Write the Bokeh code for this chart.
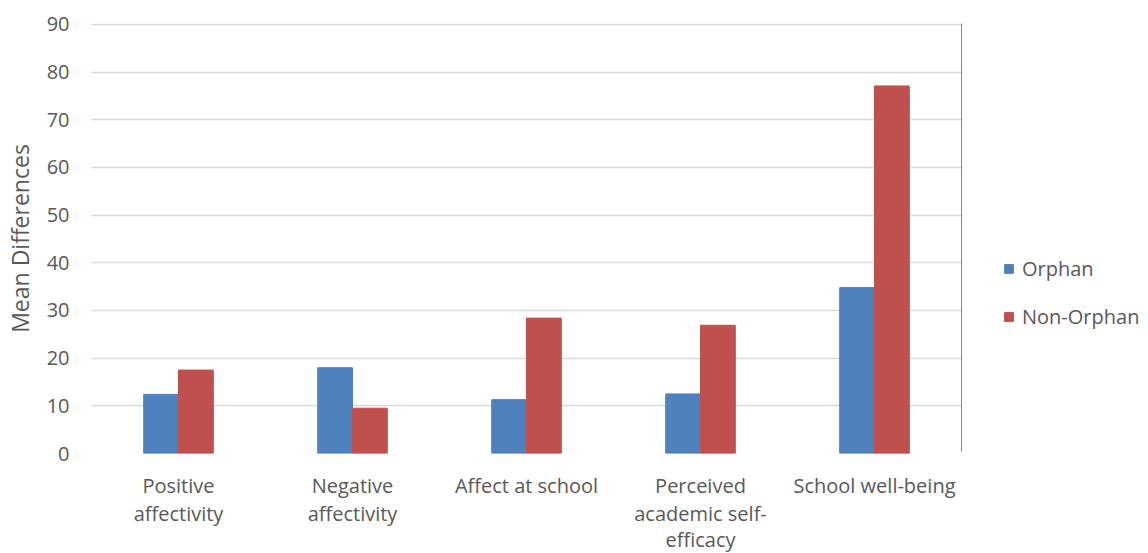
from bokeh.plotting import figure
from bokeh.models import (ColumnDataSource, Legend, LegendItem, FixedTicker,
                          LinearAxis, Range1d)
from bokeh.layouts import row
from bokeh.transform import dodge
from bokeh.embed import file_html
from bokeh.resources import INLINE

categories = ["Positive affectivity", "Negative affectivity", "Affect at school",
              "Perceived academic self-efficacy", "School well-being"]
# tick labels, one list per text line of each category label
label_line1 = ["Positive", "Negative", "Affect at school", "Perceived", "School well-being"]
label_line2 = ["affectivity", "affectivity", "", "academic self-", ""]
label_line3 = ["", "", "", "efficacy", ""]
orphan = [12.4, 18.0, 11.3, 12.5, 34.8]
non_orphan = [17.5, 9.5, 28.4, 26.9, 77.1]
series_names = ["Orphan", "Non-Orphan"]
y_ticks = [0, 10, 20, 30, 40, 50, 60, 70, 80, 90]
colors = ["#4F81BD", "#C0504D"]

FONT = "Open Sans"
TXT = "#595959"
GRID = "#D9D9D9"
FS = "20px"

# category i is centred at 2*i+1 on a 0..10 scale
n_cat = len(categories)
pos = [2 * i + 1 for i in range(n_cat)]
src = ColumnDataSource(dict(cat=categories, pos=pos, orphan=orphan, non=non_orphan))

p = figure(x_range=Range1d(0, 2 * n_cat), y_range=Range1d(0, 90.2),
           frame_width=870, frame_height=430, output_backend="svg", toolbar_location=None,
           min_border_left=90, min_border_right=0, min_border_top=23, min_border_bottom=0)

r1 = p.vbar(x=dodge("pos", -0.2), top="orphan", width=0.4, source=src,
            fill_color=colors[0], line_color=colors[0])
r2 = p.vbar(x=dodge("pos", 0.2), top="non", width=0.4, source=src,
            fill_color=colors[1], line_color=colors[1])

p.outline_line_color = None
p.background_fill_color = "white"
p.border_fill_color = "white"
p.xgrid.visible = False
p.ygrid.grid_line_color = GRID
p.ygrid.grid_line_width = 1.3
p.yaxis.ticker = FixedTicker(ticks=y_ticks)

p.yaxis.axis_line_color = None
p.yaxis.major_tick_line_color = None
p.yaxis.minor_tick_line_color = None
p.yaxis.major_label_text_font = FONT
p.yaxis.major_label_text_font_size = FS
p.yaxis.major_label_text_color = TXT
p.yaxis.major_label_standoff = 16
p.yaxis.axis_label = "Mean Differences"
p.yaxis.axis_label_text_font = FONT
p.yaxis.axis_label_text_font_size = "23px"
p.yaxis.axis_label_text_font_style = "normal"
p.yaxis.axis_label_text_color = TXT
p.yaxis.axis_label_standoff = 8

p.xaxis.visible = False

def add_line_axis(labels, standoff):
    ticks = [pos[i] for i, t in enumerate(labels) if t]
    overrides = {pos[i]: t for i, t in enumerate(labels) if t}
    ax = LinearAxis(ticker=FixedTicker(ticks=ticks))
    ax.major_label_overrides = overrides
    ax.axis_line_color = None
    ax.major_tick_line_color = None
    ax.minor_tick_line_color = None
    ax.major_label_text_font = FONT
    ax.major_label_text_font_size = FS
    ax.major_label_text_color = TXT
    ax.major_label_standoff = standoff
    ax.major_label_orientation = "horizontal"
    p.add_layout(ax, "below")

add_line_axis(label_line1, 12)
add_line_axis(label_line2, -8)
add_line_axis(label_line3, -10)

# legend panel
pl = figure(width=188, height=553, x_range=Range1d(0, 1), y_range=Range1d(0, 1),
            output_backend="svg", toolbar_location=None, min_border=0)
pl.axis.visible = False
pl.grid.visible = False
pl.outline_line_color = None
pl.border_fill_color = "white"
d1 = pl.vbar(x=[-10], top=[1], width=1, fill_color=colors[0], line_color=colors[0])
d2 = pl.vbar(x=[-10], top=[1], width=1, fill_color=colors[1], line_color=colors[1])
legend = Legend(items=[LegendItem(label=series_names[0], renderers=[d1]),
                       LegendItem(label=series_names[1], renderers=[d2])],
                location=(42, 121), orientation="vertical",
                glyph_width=11, glyph_height=11, label_height=20, spacing=21,
                label_standoff=8, padding=0, margin=0,
                border_line_color=None, background_fill_alpha=0,
                label_text_font=FONT, label_text_font_size=FS, label_text_color=TXT)
pl.add_layout(legend, "center")

layout = row(p, pl, spacing=0)
open("out.html", "w").write(file_html(layout, INLINE))
